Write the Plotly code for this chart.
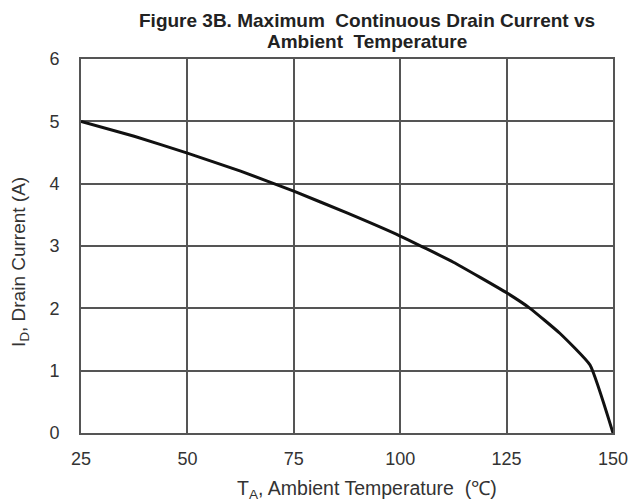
import plotly.graph_objects as go

# ambient temperature (C) and max continuous drain current (A)
temp_c = [25, 37.5, 50, 62.5, 75, 87.5, 100, 112.5, 125, 130.5, 137.5, 144.6, 150]
drain_a = [5.0, 4.76, 4.49, 4.2, 3.88, 3.53, 3.16, 2.74, 2.25, 2.0, 1.6, 1.09, 0.0]

x_ticks = [25, 50, 75, 100, 125, 150]
y_ticks = [0, 1, 2, 3, 4, 5, 6]

title_lines = ["Figure 3B. Maximum  Continuous Drain Current vs", "Ambient  Temperature"]

FONT = "Liberation Sans, Arial, sans-serif"
GRID = "#555555"

fig = go.Figure()
fig.add_trace(go.Scatter(
    x=temp_c, y=drain_a, mode="lines",
    line=dict(color="#111111", width=3, shape="spline", smoothing=0.4),
    showlegend=False,
))

# page has an 8px body margin, so the figure is a bit smaller than the window
fig.update_layout(
    width=636, height=493,
    margin=dict(l=73, r=31, t=51, b=68),
    paper_bgcolor="white", plot_bgcolor="white",
    font=dict(family=FONT, color="#333333"),
)

fig.update_xaxes(
    range=[25, 150], tickvals=x_ticks,
    showgrid=True, gridcolor=GRID, gridwidth=1.6,
    showline=True, linecolor=GRID, linewidth=1.6, mirror=True,
    zeroline=False, ticks="", ticklabelstandoff=9,
    tickfont=dict(size=18, color="#333333"),
)
fig.update_yaxes(
    range=[0, 6], tickvals=y_ticks,
    showgrid=True, gridcolor=GRID, gridwidth=1.6,
    showline=True, linecolor=GRID, linewidth=1.6, mirror=True,
    zeroline=False, ticks="", ticklabelstandoff=16,
    tickfont=dict(size=18, color="#333333"),
)

# title split in two lines so it stays inside the figure
fig.add_annotation(
    text=f"<b>{title_lines[0]}</b>",
    xref="paper", yref="paper", x=0.5376, y=1.1364,
    xanchor="center", yanchor="top", showarrow=False,
    font=dict(size=19, color="#222222"),
)
fig.add_annotation(
    text=f"<b>{title_lines[1]}</b>",
    xref="paper", yref="paper", x=0.5376, y=1.0455,
    xanchor="center", yanchor="middle", showarrow=False,
    font=dict(size=19, color="#222222"),
)
fig.add_annotation(
    text="I<sub>D</sub>, Drain Current (A)", textangle=-90,
    xref="paper", yref="paper", x=-0.115, y=0.457,
    xanchor="center", yanchor="middle", showarrow=False,
    font=dict(size=19, color="#333333"),
)
fig.add_annotation(
    text="T<sub>A</sub>, Ambient Temperature  (\u2103)",
    xref="paper", yref="paper", x=0.538, y=-0.152,
    xanchor="center", yanchor="middle", showarrow=False,
    font=dict(size=19.5, color="#333333"),
)

fig.write_html("out.html")
